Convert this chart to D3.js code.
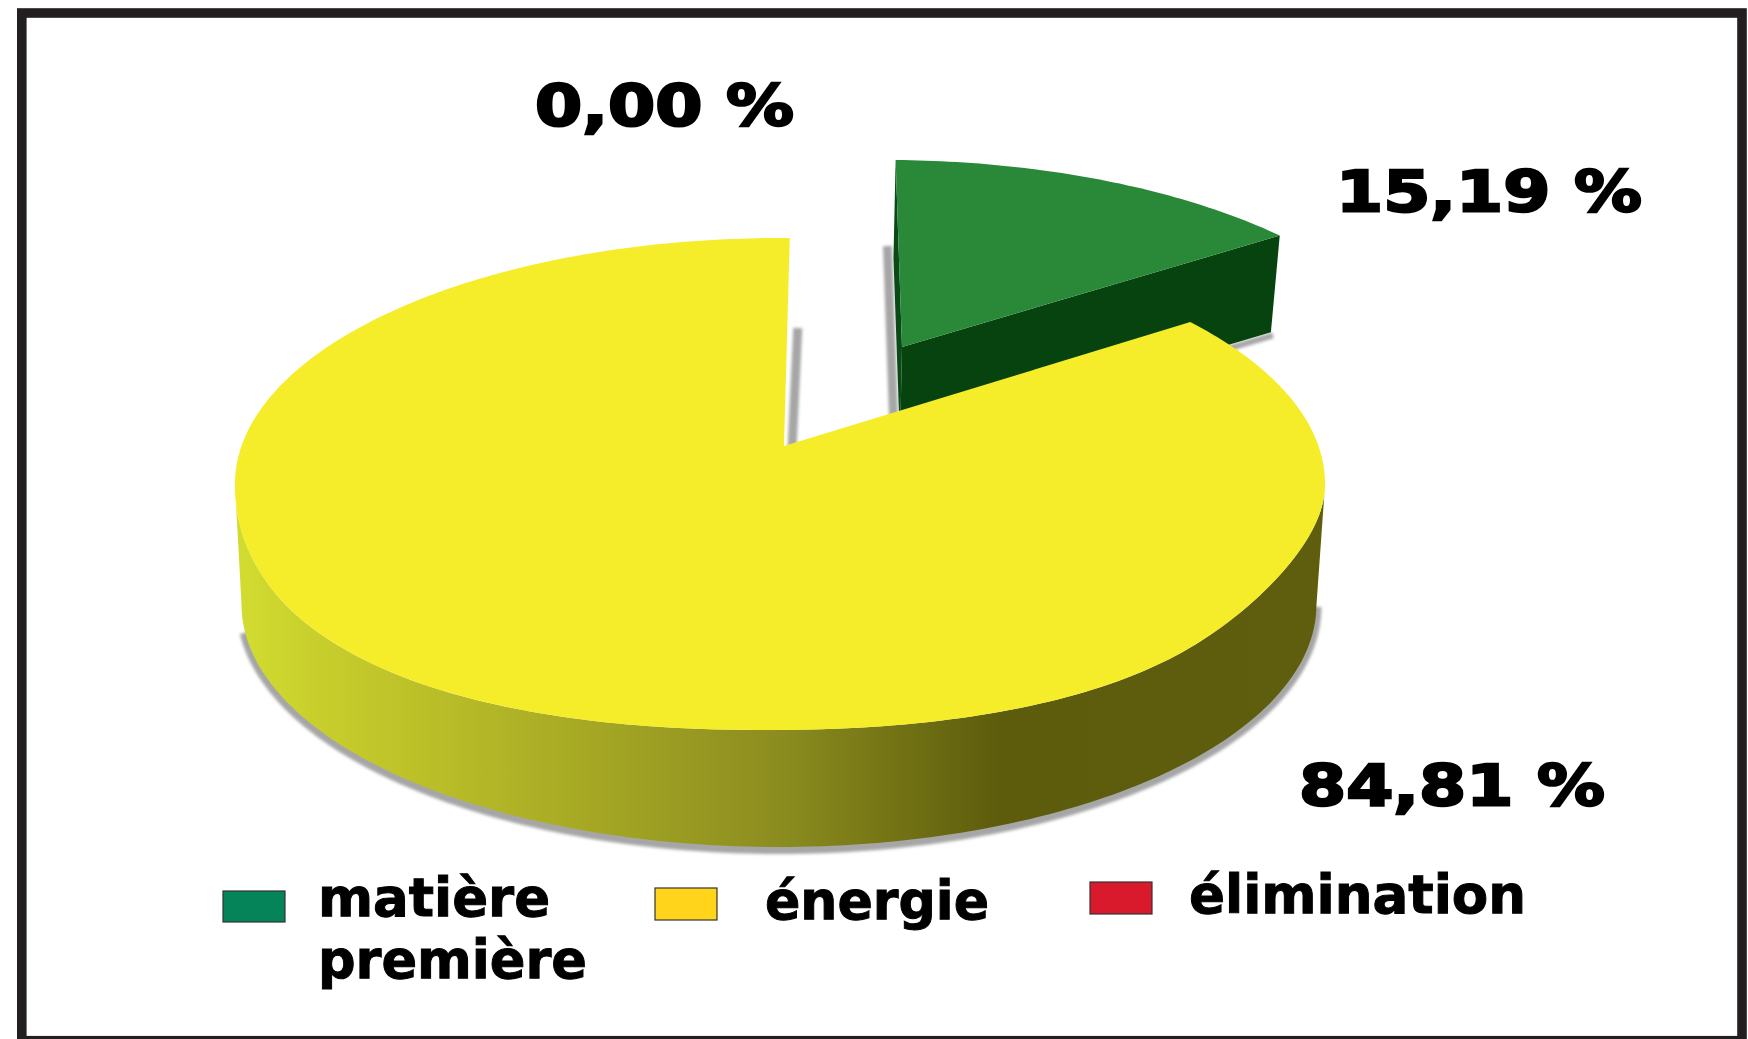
<!DOCTYPE html>
<html>
<head>
<meta http-equiv="Content-Type" content="text/html; charset=UTF-8">
<style>
html, body { margin: 0; padding: 0; background: #fff; }
svg { display: block; }
text { font-family: "DejaVu Sans", sans-serif; font-weight: bold; fill: #000; stroke: #000; }
</style>
</head>
<body>
<svg width="1748" height="1039"></svg>
<script src="https://cdn.jsdelivr.net/npm/d3@7"></script>
<script>

var categories = ["matière première", "énergie", "élimination"];
var values = [15.19, 84.81, 0];

var topColors = ["#2a8938", "#f5ec2a", "#d9192c"];
var legendColors = ["#05845a", "#ffd41a", "#d9192c"];

var svg = d3.select("svg");
var deg = Math.PI / 180;

// the disc is seen in perspective, so the pie centre sits above the middle of the ellipse
var persp = 0.1545;

function projector(o) {
  return function (a) {
    var u = Math.sin(a), v = Math.cos(a), w = 1 + persp * v;
    return [o.x + (o.a * u + (o.s || 0) * v) / w, o.y - o.b * v / w];
  };
}

function smooth(t) {
  t = Math.min(1, Math.max(0, t));
  return t * t * (3 - 2 * t);
}

// front edge of the top face is fatter than a true ellipse and leans left
function fatFront(proj, box) {
  return function (a) {
    var p = proj(a),
        ex = (p[0] - box.x) / box.rx,
        ey = (p[1] - box.y) / box.ry;
    if (ey <= 0) return p;
    var e = 1 + (2 / box.n - 1) * smooth((ey - 0.1) / 0.8);
    return [box.x + box.lean * smooth(ey / 0.6) + box.rx * Math.sign(ex) * Math.pow(Math.abs(ex), e),
            box.y + box.ry * Math.pow(ey, e)];
  };
}

var yellowApex = [784, 446],
    greenApex = [902, 347],
    greenFoot = [900, 442];

var yellowTop = fatFront(projector({x: 780, y: 446, a: 538.5, b: 240.1}), {x: 780, y: 484, rx: 545, ry: 246, n: 2.2, lean: -14}),
    yellowBottom = projector({x: 779, y: 567, a: 531, b: 236.8}),
    yellowShade = projector({x: 780, y: 536, a: 538.5, b: 240.1}),
    greenTop = projector({x: 902, y: 347, a: 508, b: 215.9, s: -18}),
    greenBottom = projector({x: 900, y: 442, a: 499, b: 212.5, s: -18});

var pie = d3.pie().sort(null).startAngle(1.2 * deg).endAngle(361.2 * deg);
var slices = pie(values);
var green = slices[0], yellow = slices[1];

var line = d3.line();

function arcPoints(proj, a0, a1) {
  var n = Math.max(2, Math.ceil(Math.abs(a1 - a0) / deg));
  return d3.range(n + 1).map(function (i) { return proj(a0 + (a1 - a0) * i / n); });
}

function wedge(proj, apex, slice) {
  return line([apex].concat(arcPoints(proj, slice.startAngle, slice.endAngle))) + "Z";
}

var defs = svg.append("defs");

var blur = defs.append("filter").attr("id", "blur")
    .attr("x", "-10%").attr("y", "-10%").attr("width", "120%").attr("height", "120%");
blur.append("feGaussianBlur").attr("stdDeviation", 1.8);

var wallFill = defs.append("linearGradient").attr("id", "wall")
    .attr("gradientUnits", "userSpaceOnUse")
    .attr("x1", 240).attr("x2", 1325).attr("y1", 0).attr("y2", 0);
[[0, "#d2dc30"], [0.07, "#c8cf2c"], [0.25, "#b0b326"], [0.5, "#8b8c1f"], [0.7, "#5d5c0c"], [1, "#5f5e0e"]]
  .forEach(function (s) { wallFill.append("stop").attr("offset", s[0]).attr("stop-color", s[1]); });

svg.append("rect").attr("width", 1748).attr("height", 1039).attr("fill", "#fff");

// soft shadows
var shadows = svg.append("g").attr("fill", "none").attr("stroke", "#a6a6a6").attr("filter", "url(#blur)");

var gs = greenBottom(green.startAngle), ge = greenBottom(green.endAngle);
shadows.append("path").attr("stroke-width", 9)
    .attr("transform", "translate(-6,-12)")
    .attr("d", line([gs, greenFoot]));
shadows.append("path").attr("stroke-width", 6)
    .attr("transform", "translate(2,3)")
    .attr("d", line([ge, greenFoot]));
shadows.append("path").attr("stroke-width", 9)
    .attr("transform", "translate(8,0)")
    .attr("d", line([yellowShade(yellow.endAngle), [784, 450]]));
shadows.append("path").attr("stroke-width", 10)
    .attr("transform", "translate(0,2)")
    .attr("d", line(arcPoints(yellowBottom, 99 * deg, 255 * deg)));

// green slice, pulled out of the pie
svg.append("path").attr("fill", "#06430f")
    .attr("d", line([greenApex, greenTop(green.endAngle), ge, greenFoot]) + "Z");
svg.append("path").attr("fill", "#0a4a16")
    .attr("d", line([greenApex, greenTop(green.startAngle), gs, greenFoot]) + "Z");
svg.append("path").attr("fill", topColors[0])
    .attr("d", wedge(greenTop, greenApex, green));

// yellow slice
var wallAngles = [99 * deg, 261 * deg];
svg.append("path").attr("fill", "url(#wall)")
    .attr("d", line(arcPoints(yellowTop, wallAngles[0], wallAngles[1])
      .concat(arcPoints(yellowBottom, wallAngles[1], wallAngles[0]))) + "Z");
svg.append("path").attr("fill", topColors[1])
    .attr("d", wedge(yellowTop, yellowApex, yellow));

// value labels
var labelBoxes = [
  {x: 1336, y: 212, w: 306},
  {x: 1299, y: 806, w: 306},
  {x: 535, y: 126, w: 259}
];
values.forEach(function (v, i) {
  svg.append("text")
      .attr("x", labelBoxes[i].x).attr("y", labelBoxes[i].y)
      .attr("font-size", 57.5).attr("stroke-width", 2.4)
      .attr("textLength", labelBoxes[i].w).attr("lengthAdjust", "spacingAndGlyphs")
      .text(v.toFixed(2).replace(".", ",") + " %");
});

// legend
var swatches = [
  {x: 223, y: 891, w: 62, h: 31},
  {x: 655, y: 888, w: 62, h: 32},
  {x: 1090, y: 882, w: 62, h: 32}
];
var legendLines = [
  [{x: 318, y: 916, w: 232}, {x: 318, y: 978, w: 269}],
  [{x: 765, y: 919, w: 224}],
  [{x: 1189, y: 913, w: 337}]
];
categories.forEach(function (c, i) {
  svg.append("rect")
      .attr("x", swatches[i].x).attr("y", swatches[i].y)
      .attr("width", swatches[i].w).attr("height", swatches[i].h)
      .attr("fill", legendColors[i]).attr("stroke", "#333").attr("stroke-width", 1.2);
  var words = legendLines[i].length > 1 ? c.split(" ") : [c];
  words.forEach(function (t, j) {
    svg.append("text")
        .attr("x", legendLines[i][j].x).attr("y", legendLines[i][j].y)
        .attr("font-size", 53).attr("stroke-width", 1)
        .attr("textLength", legendLines[i][j].w).attr("lengthAdjust", "spacingAndGlyphs")
        .text(t);
  });
});

// frame
svg.append("rect")
    .attr("x", 21.8).attr("y", 13).attr("width", 1720.2).attr("height", 1027.7)
    .attr("fill", "none").attr("stroke", "#231f20").attr("stroke-width", 9.6);

</script>
</body></html>
